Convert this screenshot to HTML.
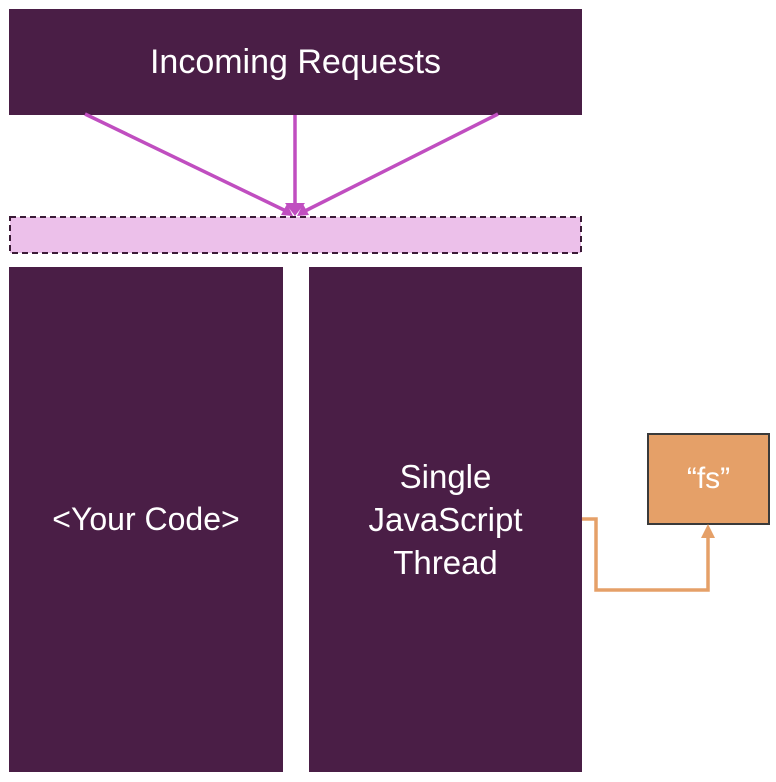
<!DOCTYPE html>
<html><head><style>
body{margin:0;width:776px;height:782px;background:#fff;overflow:hidden;font-family:"Liberation Sans",sans-serif}
.b{position:absolute;background:#4a1e46;color:#fff;display:flex;align-items:center;justify-content:center;text-align:center}
</style></head><body>
<div class="b" style="left:9px;top:9px;width:573px;height:106px;font-size:34px">Incoming Requests</div>
<div class="b" style="left:9px;top:267px;width:274px;height:505px;font-size:32px">&lt;Your Code&gt;</div>
<div class="b" style="left:309px;top:267px;width:273px;height:505px;font-size:33px;line-height:43px">Single<br>JavaScript<br>Thread</div>
<div class="b" style="left:647px;top:433px;width:119px;height:88px;background:#e5a068;border:2px solid #3a3a3a;font-size:30px">“fs”</div>
<svg width="776" height="782" style="position:absolute;left:0;top:0">
<rect x="10" y="217" width="571" height="36" fill="#ecc0ea" stroke="#3a1a36" stroke-width="2" stroke-dasharray="6,4"/>
<g stroke="#c04ec0" stroke-width="3.5" fill="none">
<line x1="85" y1="114" x2="286" y2="211"/>
<line x1="295" y1="115" x2="295" y2="206"/>
<line x1="498" y1="114" x2="305" y2="211"/>
</g>
<g fill="#c04ec0">
<polygon points="295,216 285,203 305,203"/>
<polygon points="293,216 281,215 287,204"/>
<polygon points="297,216 303,204 309,215"/>
</g>
<polyline points="582,519 596,519 596,590 708,590 708,536" stroke="#e5a068" stroke-width="3.5" fill="none"/>
<polygon points="708,524 701,538 715,538" fill="#e5a068"/>
</svg>
</body></html>
